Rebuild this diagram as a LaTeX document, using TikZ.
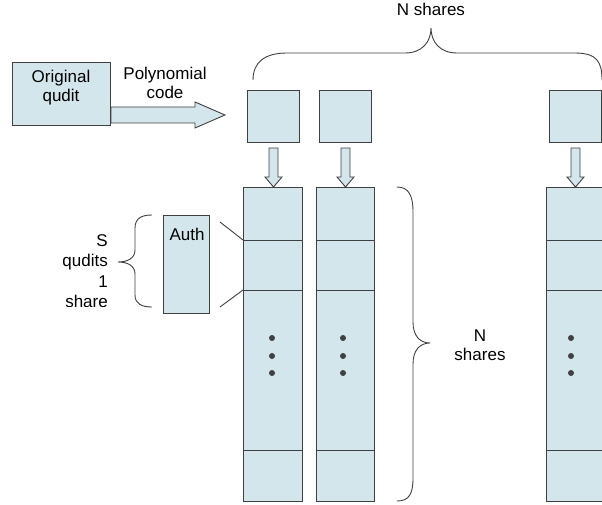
\documentclass[tikz,border=0pt]{standalone}
\usepackage{fontspec}
\setmainfont{Liberation Sans}
\usetikzlibrary{calc}
\definecolor{boxfill}{HTML}{D3E6EC}
\definecolor{boxline}{HTML}{404040}
\begin{document}
\begin{tikzpicture}[x=1pt,y=-1pt,
  box/.style={draw=boxline,fill=boxfill,line width=1pt,inner sep=0pt,anchor=north west},
  lbl/.style={font=\fontsize{17}{19}\selectfont,align=center,inner sep=0pt},
  blockarrow/.style={draw=boxline,fill=boxfill,line width=0.9pt,line join=miter},
  brace/.style={draw=boxline,line width=0.9pt},
  sep/.style={draw=boxline,line width=0.9pt},
  dot/.style={fill=boxline,circle,inner sep=0pt,minimum size=6pt}]
\useasboundingbox (0,0) rectangle (602,505);
\begin{scope}
\clip (0,0) rectangle (602,505);
% original qudit
\node[box,minimum width=98pt,minimum height=63pt] (orig) at (12,62) {};
\node[lbl] (origtxt) at (61,88) {Original\\qudit};
\node[lbl] (poly) at (165,83) {Polynomial\\code};
% top share boxes
\node[box,minimum width=52pt,minimum height=52pt] (s1) at (247,90) {};
\node[box,minimum width=52pt,minimum height=52pt] (s2) at (319,90) {};
\node[box,minimum width=52pt,minimum height=52pt] (s3) at (549,90) {};
% columns
\node[box,minimum width=59pt,minimum height=314pt] (c1) at (243,187) {};
\node[box,minimum width=58pt,minimum height=314pt] (c2) at (316,187) {};
\node[box,minimum width=70pt,minimum height=314pt] (c3) at (546,187) {};
% separators
\foreach \c in {c1,c2,c3}{
  \foreach \yy in {240,290,450}{
    \draw[sep] (\c.west |- 0,\yy) -- (\c.east |- 0,\yy);
  }
}
% dots
\foreach \xx in {272,343,571}{
  \foreach \yy in {338,356,373}{
    \node[dot] at (\xx,\yy) {};
  }
}
% big right arrow
\coordinate (pa) at (orig.east |- 0,115);
\coordinate (pb) at (225,115);
\draw[blockarrow] ($(pa)+(0,-8)$) -- ($(pb)+(-30,-8)$) -- ($(pb)+(-30,-13)$) -- (pb)
  -- ($(pb)+(-30,13)$) -- ($(pb)+(-30,8)$) -- ($(pa)+(0,8)$) -- cycle;
% down arrows
\foreach \s/\c in {s1/c1,s2/c2,s3/c3}{
  \coordinate (da) at ($(\s.south)+(0,5)$);
  \coordinate (db) at (\s.south |- \c.north);
  \draw[blockarrow] ($(da)+(-4.5,0)$) -- ($(da)+(4.5,0)$) -- ($(db)+(4.5,-10)$) -- ($(db)+(8.5,-10)$)
    -- (db) -- ($(db)+(-8.5,-10)$) -- ($(db)+(-4.5,-10)$) -- cycle;
}
% auth box
\node[box,minimum width=46pt,minimum height=98pt] (auth) at (163,215) {};
\node[lbl] (authtxt) at (187,234) {Auth};
\draw[sep] (220,222) -- (c1.west |- 0,240);
\draw[sep] (220,307) -- (c1.west |- 0,290);
% top brace
\draw[brace] (253,80) .. controls (253,62) and (265,53) .. (287,53) -- (405,53)
  .. controls (422,53) and (431,42) .. (431,28)
  .. controls (431,42) and (440,53) .. (457,53) -- (575,53)
  .. controls (597,53) and (602,62) .. (602,80);
\node[lbl] (ntop) at (431,9) {N shares};
% right brace
\draw[brace] (397,187) .. controls (409,187) and (413,196) .. (413,212) -- (413,322)
  .. controls (413,336) and (420,343) .. (430,343)
  .. controls (420,343) and (413,350) .. (413,364) -- (413,478)
  .. controls (413,494) and (409,501) .. (397,501);
\node[lbl] (nright) at (480,345) {N\\shares};
% left brace
\draw[brace] (152,215) .. controls (142,215) and (135,218) .. (135,228) -- (135,250)
  .. controls (135,258) and (128,262) .. (118,262)
  .. controls (128,262) and (135,266) .. (135,274) -- (135,295)
  .. controls (135,304) and (142,307) .. (152,307);
\begin{scope}
\clip (0,200) rectangle (115,306);
\node[lbl,align=right,anchor=north east,font=\fontsize{17}{20.5}\selectfont] (sq) at (108,234) {S\\qudits\\1\\share};
\end{scope}
\end{scope}
\end{tikzpicture}
\end{document}
